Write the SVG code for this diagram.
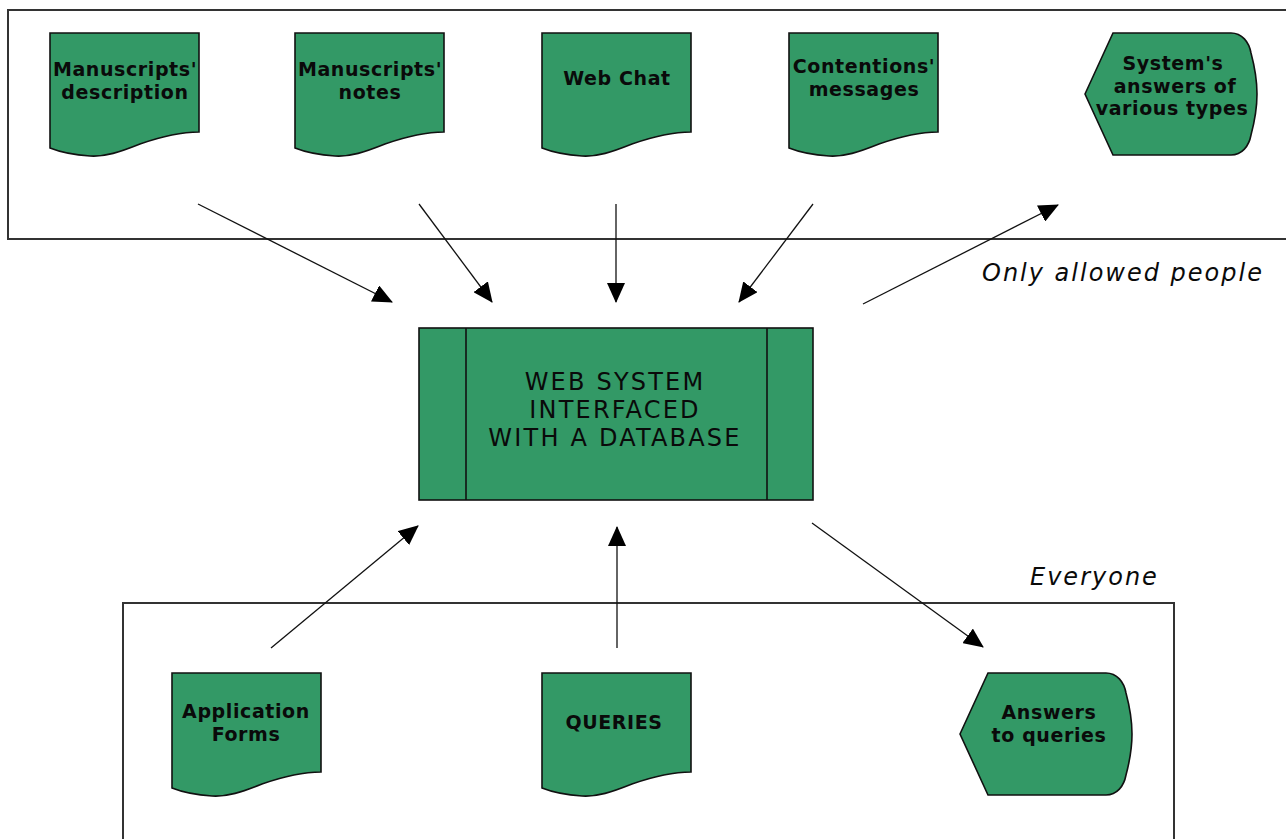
<svg xmlns="http://www.w3.org/2000/svg" xmlns:xlink="http://www.w3.org/1999/xlink" width="1286" height="839" viewBox="0 0 1286 839">
<style>
.shape{fill:#339966;stroke:#111;stroke-width:1.6}
.frame{fill:none;stroke:#333;stroke-width:2}
.lbl{font-family:"DejaVu Sans",Verdana,sans-serif;font-weight:bold;font-size:19px;letter-spacing:0.6px;fill:#0a0a0a;text-anchor:middle}
.main{font-family:"DejaVu Sans",Verdana,sans-serif;font-size:24px;letter-spacing:2.2px;fill:#0a0a0a;text-anchor:middle}
.note{font-family:"DejaVu Sans",Verdana,sans-serif;font-style:italic;font-size:24px;letter-spacing:2px;fill:#0a0a0a}
.conn{stroke:#111;stroke-width:1.3;fill:none;marker-end:url(#ah)}
</style>
<defs>
<marker id="ah" viewBox="0 0 20 18" refX="19" refY="9" markerWidth="20" markerHeight="18" markerUnits="userSpaceOnUse" orient="auto">
<path d="M0,0 L20,9 L0,18 Z" fill="#000"/>
</marker>
<path id="doc" d="M0,0 H149 V99 C130,99 110,104 90,111 C70,119 55,124 40,123 C25,122 10,119 0,115 Z"/>
<path id="disp" d="M0,61 L28,0 H146 C157,0 164,9 166,20 C170,35 172,48 172,61 C172,74 170,87 166,102 C164,113 157,122 146,122 H28 Z"/>
</defs>
<rect width="1286" height="839" fill="#fff"/>

<g id="frames">
<path class="frame" d="M1292,10 H8 V239 H1292"/>
<path class="frame" d="M123,845 V603 H1174 V845"/>
</g>

<g id="connectors">
<line class="conn" x1="198" y1="204" x2="392" y2="302"/>
<line class="conn" x1="419" y1="204" x2="492" y2="302"/>
<line class="conn" x1="616" y1="204" x2="616" y2="302"/>
<line class="conn" x1="813" y1="204" x2="739" y2="302"/>
<line class="conn" x1="863" y1="304" x2="1058" y2="205"/>
<line class="conn" x1="271" y1="648" x2="418" y2="526"/>
<line class="conn" x1="617" y1="648" x2="617" y2="527"/>
<line class="conn" x1="812" y1="523" x2="983" y2="647"/>
</g>

<g id="manuscripts-description">
<use xlink:href="#doc" href="#doc" class="shape" x="50" y="33"/>
<text class="lbl" x="125" y="76">Manuscripts'</text>
<text class="lbl" x="125" y="98.5">description</text>
</g>
<g id="manuscripts-notes">
<use xlink:href="#doc" href="#doc" class="shape" x="295" y="33"/>
<text class="lbl" x="370" y="76">Manuscripts'</text>
<text class="lbl" x="370" y="98.5">notes</text>
</g>
<g id="web-chat">
<use xlink:href="#doc" href="#doc" class="shape" x="542" y="33"/>
<text class="lbl" x="617" y="85">Web Chat</text>
</g>
<g id="contentions-messages">
<use xlink:href="#doc" href="#doc" class="shape" x="789" y="33"/>
<text class="lbl" x="864" y="73">Contentions'</text>
<text class="lbl" x="864" y="95.5">messages</text>
</g>
<g id="system-answers">
<use xlink:href="#disp" href="#disp" class="shape" x="1085" y="33"/>
<text class="lbl" x="1173" y="70">System's</text>
<text class="lbl" x="1175" y="92.5">answers of</text>
<text class="lbl" x="1172" y="115">various types</text>
</g>

<g id="web-system">
<rect class="shape" x="419" y="328" width="394" height="172"/>
<line x1="466" y1="328" x2="466" y2="500" stroke="#111" stroke-width="1.6"/>
<line x1="767" y1="328" x2="767" y2="500" stroke="#111" stroke-width="1.6"/>
<text class="main" x="615" y="390">WEB SYSTEM</text>
<text class="main" x="615" y="418">INTERFACED</text>
<text class="main" x="615" y="446">WITH A DATABASE</text>
</g>

<g id="application-forms">
<use xlink:href="#doc" href="#doc" class="shape" x="172" y="673"/>
<text class="lbl" x="246" y="718">Application</text>
<text class="lbl" x="246" y="740.5">Forms</text>
</g>
<g id="queries">
<use xlink:href="#doc" href="#doc" class="shape" x="542" y="673"/>
<text class="lbl" x="614" y="729">QUERIES</text>
</g>
<g id="answers-to-queries">
<use xlink:href="#disp" href="#disp" class="shape" x="960" y="673"/>
<text class="lbl" x="1049" y="719">Answers</text>
<text class="lbl" x="1049" y="741.5">to queries</text>
</g>

<g id="labels">
<text class="note" x="982" y="281">Only allowed people</text>
<text class="note" x="1030" y="585">Everyone</text>
</g>
</svg>
